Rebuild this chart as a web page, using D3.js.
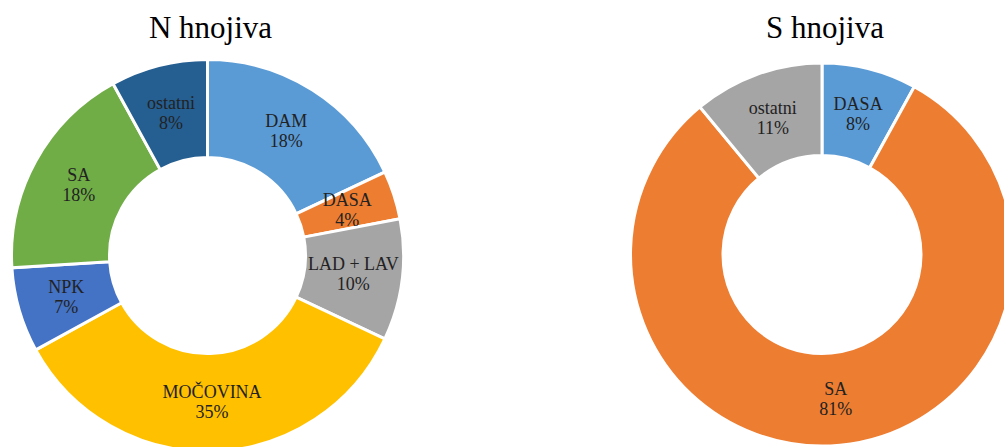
<!DOCTYPE html>
<html>
<head>
<meta charset="utf-8">
<script src="https://cdn.jsdelivr.net/npm/d3@7"></script>
<style>
  html, body { margin: 0; padding: 0; background: #fff; }
  svg { display: block; }
</style>
</head>
<body>
<svg id="chart" width="1004" height="447"></svg>
<script>
// ---- data ----
const nTitle = "N hnojiva";
const nCategories = ["DAM", "DASA", "LAD + LAV", "MOČOVINA", "NPK", "SA", "ostatni"];
const nValues = [18, 4, 10, 35, 7, 18, 8];
const nColors = ["#5B9BD5", "#ED7D31", "#A5A5A5", "#FFC000", "#4472C4", "#70AD47", "#255E91"];

const sTitle = "S hnojiva";
const sCategories = ["DASA", "SA", "ostatni"];
const sValues = [8, 81, 11];
const sColors = ["#5B9BD5", "#ED7D31", "#A5A5A5"];

const FONT = "'Liberation Serif', Tinos, 'Times New Roman', 'DejaVu Serif', serif";
const svg = d3.select("#chart");

function donut(cfg) {
  const data = cfg.categories.map((c, i) => ({ name: c, value: cfg.values[i], color: cfg.colors[i] }));
  const total = d3.sum(data, d => d.value);
  const pie = d3.pie().value(d => d.value).sort(null).startAngle(0).endAngle(2 * Math.PI);
  const arc = d3.arc().innerRadius(cfg.r0).outerRadius(cfg.r1);
  const g = svg.append("g").attr("transform", `translate(${cfg.cx},${cfg.cy})`);
  const arcs = pie(data);
  g.selectAll("path.slice").data(arcs).enter().append("path")
    .attr("class", "slice")
    .attr("d", arc)
    .attr("fill", d => d.data.color)
    .attr("stroke", "#ffffff")
    .attr("stroke-width", 3)
    .attr("stroke-linejoin", "miter");
  const fmt = d3.format(".0%");
  const lab = g.selectAll("text.lbl").data(arcs).enter().append("text")
    .attr("class", "lbl")
    .attr("text-anchor", "middle")
    .attr("font-family", FONT)
    .attr("font-size", 18)
    .attr("fill", "#222222")
    .attr("transform", d => { const c = arc.centroid(d); return `translate(${c[0]},${c[1]})`; });
  lab.append("tspan").attr("x", 0).attr("y", -4).text(d => d.data.name);
  lab.append("tspan").attr("x", 0).attr("y", 16).text(d => fmt(d.data.value / total));
  svg.append("text")
    .attr("x", cfg.tx).attr("y", 38)
    .attr("text-anchor", "middle")
    .attr("font-family", FONT)
    .attr("font-size", 31)
    .attr("fill", "#000")
    .text(cfg.title);
}

donut({ title: nTitle, categories: nCategories, values: nValues, colors: nColors,
        cx: 207.5, cy: 255.5, r0: 98, r1: 196, tx: 210.5 });
donut({ title: sTitle, categories: sCategories, values: sValues, colors: sColors,
        cx: 822, cy: 254.5, r0: 99, r1: 191.5, tx: 825 });
</script>
</body>
</html>
